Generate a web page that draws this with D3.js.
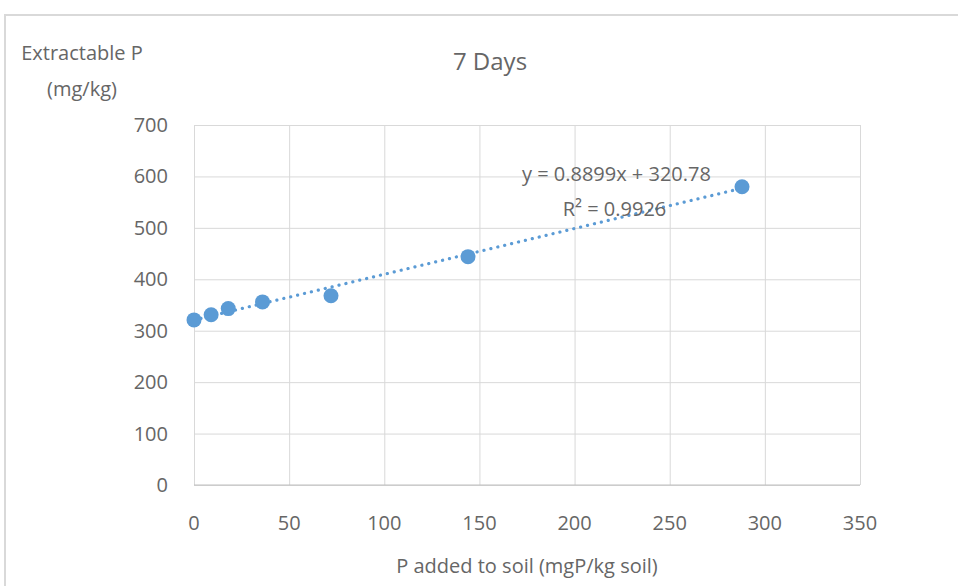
<html>
<head>
    <meta charset="UTF-8" />
    <script src="https://d3js.org/d3.v7.min.js"></script>
    <style>
        body { margin: 0; background: white; }
        text { font-family: "Open Sans", "Noto Sans", sans-serif; fill: #666666; }
    </style>
</head>
<body>
    <svg id="chart" width="958" height="586"></svg>
    <script>
        // data
        const pAdded = [0, 9, 18, 36, 72, 144, 288];
        const extractable = [321, 331, 343, 356, 368, 444, 580];
        const xTicks = [0, 50, 100, 150, 200, 250, 300, 350];
        const yTicks = [0, 100, 200, 300, 400, 500, 600, 700];
        const slope = 0.8899, intercept = 320.78, r2 = 0.9926;

        let svg = d3.select("svg#chart");
        const margin = {top: 125, right: 98, bottom: 101, left: 194};
        const width = 958, height = 586;
        const chartWidth = width - margin.left - margin.right;
        const chartHeight = height - margin.top - margin.bottom;

        // outer frame
        svg.append("path")
            .attr("d", `M5,586 L5,15 L958,15`)
            .attr("fill", "none")
            .attr("stroke", "#d9d9d9")
            .attr("stroke-width", 2);

        let chartArea = svg.append("g")
            .attr("transform", `translate(${margin.left},${margin.top})`);

        const xScale = d3.scaleLinear().domain([0, 350]).range([0, chartWidth]);
        const yScale = d3.scaleLinear().domain([0, 700]).range([chartHeight, 0]);

        // grid
        chartArea.append("g")
            .call(d3.axisBottom(xScale).tickValues(xTicks).tickSize(-chartHeight).tickFormat(""))
            .attr("transform", `translate(0,${chartHeight})`)
            .call(g => g.select(".domain").remove())
            .call(g => g.selectAll("line").attr("stroke", "#d9d9d9"));
        chartArea.append("g")
            .call(d3.axisLeft(yScale).tickValues(yTicks).tickSize(-chartWidth).tickFormat(""))
            .call(g => g.select(".domain").remove())
            .call(g => g.selectAll("line").attr("stroke", "#d9d9d9"));

        // bottom axis line
        chartArea.append("line")
            .attr("x1", 0).attr("x2", chartWidth)
            .attr("y1", chartHeight).attr("y2", chartHeight)
            .attr("stroke", "#bfbfbf");

        // tick labels
        chartArea.selectAll("text.xt").data(xTicks).join("text")
            .attr("class", "xt")
            .attr("x", d => xScale(d))
            .attr("y", chartHeight + 45)
            .attr("text-anchor", "middle")
            .attr("font-size", "20px")
            .text(d => d);
        chartArea.selectAll("text.yt").data(yTicks).join("text")
            .attr("class", "yt")
            .attr("x", -26)
            .attr("y", d => yScale(d) + 7)
            .attr("text-anchor", "end")
            .attr("font-size", "20px")
            .text(d => d);

        // trendline
        chartArea.append("line")
            .attr("x1", xScale(0)).attr("y1", yScale(intercept))
            .attr("x2", xScale(288)).attr("y2", yScale(slope * 288 + intercept))
            .attr("stroke", "#5b9bd5")
            .attr("stroke-width", 3.2)
            .attr("stroke-linecap", "round")
            .attr("stroke-dasharray", "0.1,7");

        // points
        chartArea.selectAll("circle").data(pAdded).join("circle")
            .attr("cx", d => xScale(d))
            .attr("cy", (d, i) => yScale(extractable[i]))
            .attr("r", 7.5)
            .attr("fill", "#5b9bd5");

        // equation
        chartArea.append("text")
            .attr("x", xScale(222)).attr("y", yScale(592))
            .attr("text-anchor", "middle")
            .attr("font-size", "20px")
            .text(`y = ${slope}x + ${intercept}`);
        chartArea.append("text")
            .attr("x", xScale(221)).attr("y", yScale(524))
            .attr("text-anchor", "middle")
            .attr("font-size", "20px")
            .text(`R² = ${r2}`);

        // titles
        svg.append("text")
            .attr("x", 490).attr("y", 70)
            .attr("text-anchor", "middle")
            .attr("font-size", "24px")
            .text("7 Days");
        svg.append("text")
            .attr("x", 82).attr("y", 60)
            .attr("text-anchor", "middle")
            .attr("font-size", "20px")
            .text("Extractable P");
        svg.append("text")
            .attr("x", 82).attr("y", 96)
            .attr("text-anchor", "middle")
            .attr("font-size", "20px")
            .text("(mg/kg)");
        svg.append("text")
            .attr("x", margin.left + chartWidth / 2).attr("y", 573)
            .attr("text-anchor", "middle")
            .attr("font-size", "20px")
            .text("P added to soil (mgP/kg soil)");
    </script>
</body>
</html>
